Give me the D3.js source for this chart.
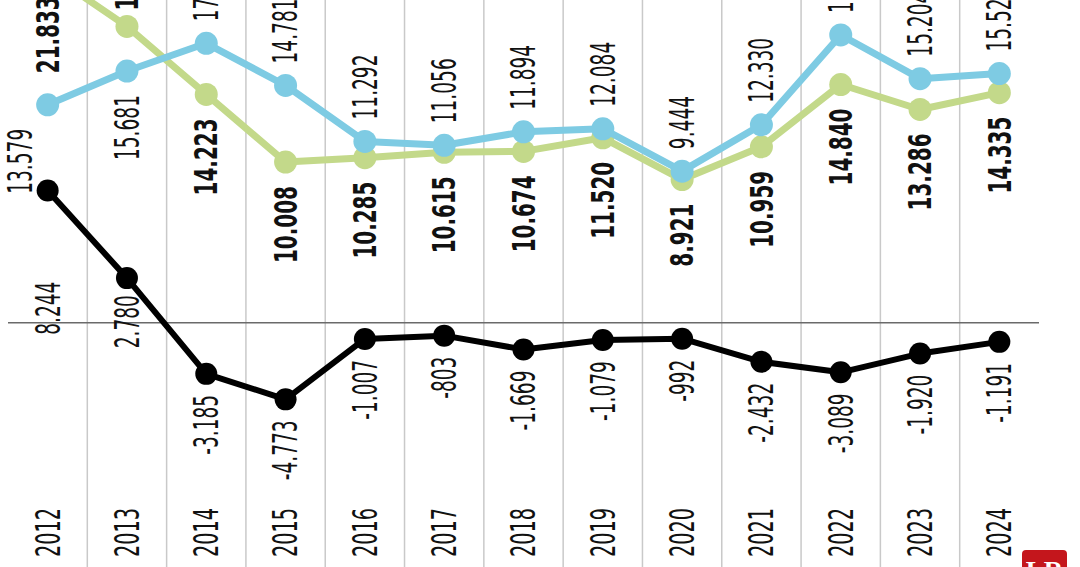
<!DOCTYPE html>
<html>
<head>
<meta charset="utf-8">
<script src="https://cdn.jsdelivr.net/npm/d3@7"></script>
<style>
  html, body { margin: 0; padding: 0; background: #fff; }
  svg { display: block; }
</style>
</head>
<body>
<svg id="chart" width="1080" height="567"></svg>
<script>
// ---- data ----
const years = ["2012","2013","2014","2015","2016","2017","2018","2019","2020","2021","2022","2023","2024"];
const exportsVal = [21.833, 18.461, 14.223, 10.008, 10.285, 10.615, 10.674, 11.520, 8.921, 10.959, 14.840, 13.286, 14.335];
const importsVal = [13.579, 15.681, 17.408, 14.781, 11.292, 11.056, 11.894, 12.084, 9.444, 12.330, 17.929, 15.204, 15.526];
const balanceVal = [8.244, 2.780, -3.185, -4.773, -1.007, -0.803, -1.669, -1.079, -0.992, -2.432, -3.089, -1.920, -1.191];

const W = 1080, H = 567;
const svg = d3.select("#chart");

const x = d3.scaleBand().domain(years).range([8, 1039]).padding(0);
const y = d3.scaleLinear().domain([-5, 20]).range([403, 1.7]);
const cx = d => x(d) + x.bandwidth() / 2;

const BLUE = "#7ecbe3", GREEN = "#c3d98a", BLACK = "#000";
const LIGHT_FONT = "'Liberation Sans Narrow', 'DejaVu Sans Condensed', 'Roboto', sans-serif";
const BOLD_FONT = "'Liberation Sans Narrow', 'DejaVu Sans Condensed', 'Roboto', sans-serif";

// number formatting: thousands with dot, Spanish style
function fmt(v) {
  const n = Math.round(v * 1000);
  const s = Math.abs(n).toString().replace(/\B(?=(\d{3})+(?!\d))/g, ".");
  return (n < 0 ? "-" : "") + s;
}

// measure helper to condense text to match the reference width
function measure(str, font, size, weight) {
  const t = svg.append("text").attr("font-family", font).attr("font-size", size)
    .attr("font-weight", weight).text(str);
  const l = t.node().getComputedTextLength();
  t.remove();
  return l;
}
const LIGHT_SIZE = 34, BOLD_SIZE = 32;
const sLight = 65 / measure("15.681", LIGHT_FONT, LIGHT_SIZE, 400);
const sBold = 77 / measure("14.223", BOLD_FONT, BOLD_SIZE, 700);
const sYear = 49 / measure("2012", LIGHT_FONT, LIGHT_SIZE, 400);

// ---- gridlines ----
const g = svg.append("g");
g.selectAll("line.grid").data(years.slice(1)).enter().append("line")
  .attr("x1", d => x(d)).attr("x2", d => x(d))
  .attr("y1", 0).attr("y2", H)
  .attr("stroke", "#c9c9c9").attr("stroke-width", 1.5);

// zero line
g.append("line")
  .attr("x1", x.range()[0]).attr("x2", x.range()[1])
  .attr("y1", y(0)).attr("y2", y(0))
  .attr("stroke", "#6a6a6a").attr("stroke-width", 1.5);

// ---- series ----
function drawSeries(vals, color, width, r) {
  const pts = years.map((yr, i) => [cx(yr), y(vals[i])]);
  g.append("path").attr("d", d3.line()(pts))
    .attr("fill", "none").attr("stroke", color).attr("stroke-width", width)
    .attr("stroke-linejoin", "round");
  g.selectAll(null).data(pts).enter().append("circle")
    .attr("cx", d => d[0]).attr("cy", d => d[1]).attr("r", r).attr("fill", color);
}
drawSeries(exportsVal, GREEN, 7, 11.5);
drawSeries(importsVal, BLUE, 7, 11.5);
drawSeries(balanceVal, BLACK, 6, 11);

// ---- labels ----
function label(str, px, py, below, opts) {
  const sx = opts.scale;
  g.append("text")
    .attr("transform", `translate(${px},${py}) rotate(-90) scale(${sx},1)`)
    .attr("text-anchor", below ? "end" : "start")
    .attr("dy", "0.35em")
    .attr("font-family", opts.font).attr("font-size", opts.size)
    .attr("font-weight", opts.weight).attr("fill", "#111")
    .text(str);
}
const GAP = 22;
years.forEach((yr, i) => {
  const X = cx(yr);
  // exports (bold)
  const gAbove = exportsVal[i] > importsVal[i] && i > 0;
  const gy = y(exportsVal[i]);
  label(fmt(exportsVal[i]), X, gAbove ? gy - GAP + 6 : gy + GAP + 2, !gAbove,
        {font: BOLD_FONT, size: BOLD_SIZE, weight: 700, scale: sBold});
  // imports (light)
  const bBelow = exportsVal[i] > importsVal[i];
  const by = y(importsVal[i]);
  label(fmt(importsVal[i]), X + (i === 0 ? -28 : 0), bBelow ? by + GAP + 2 : by - GAP, bBelow,
        {font: LIGHT_FONT, size: LIGHT_SIZE, weight: 400, scale: sLight});
  // balance (light)
  const ky = y(balanceVal[i]);
  if (i === 0) {
    label(fmt(balanceVal[i]), X, y(0) + 12, false,
          {font: LIGHT_FONT, size: LIGHT_SIZE, weight: 400, scale: sLight});
  } else {
    label(fmt(balanceVal[i]), X, ky + (balanceVal[i] > 0 ? 17 : 21), true,
          {font: LIGHT_FONT, size: LIGHT_SIZE, weight: 400, scale: sLight});
  }
  // year
  label(yr, X, 557, false, {font: LIGHT_FONT, size: LIGHT_SIZE, weight: 400, scale: sYear});
});

// ---- logo ----
svg.append("rect").attr("x", 1022).attr("y", 550).attr("width", 45).attr("height", 30)
  .attr("rx", 4).attr("fill", "#c4161c");
svg.append("text").attr("x", 1044.5).attr("y", 580).attr("text-anchor", "middle")
  .attr("font-family", "'Liberation Serif', serif").attr("font-weight", 700)
  .attr("font-size", 27).attr("fill", "#fff").text("LR");
</script>
</body>
</html>
